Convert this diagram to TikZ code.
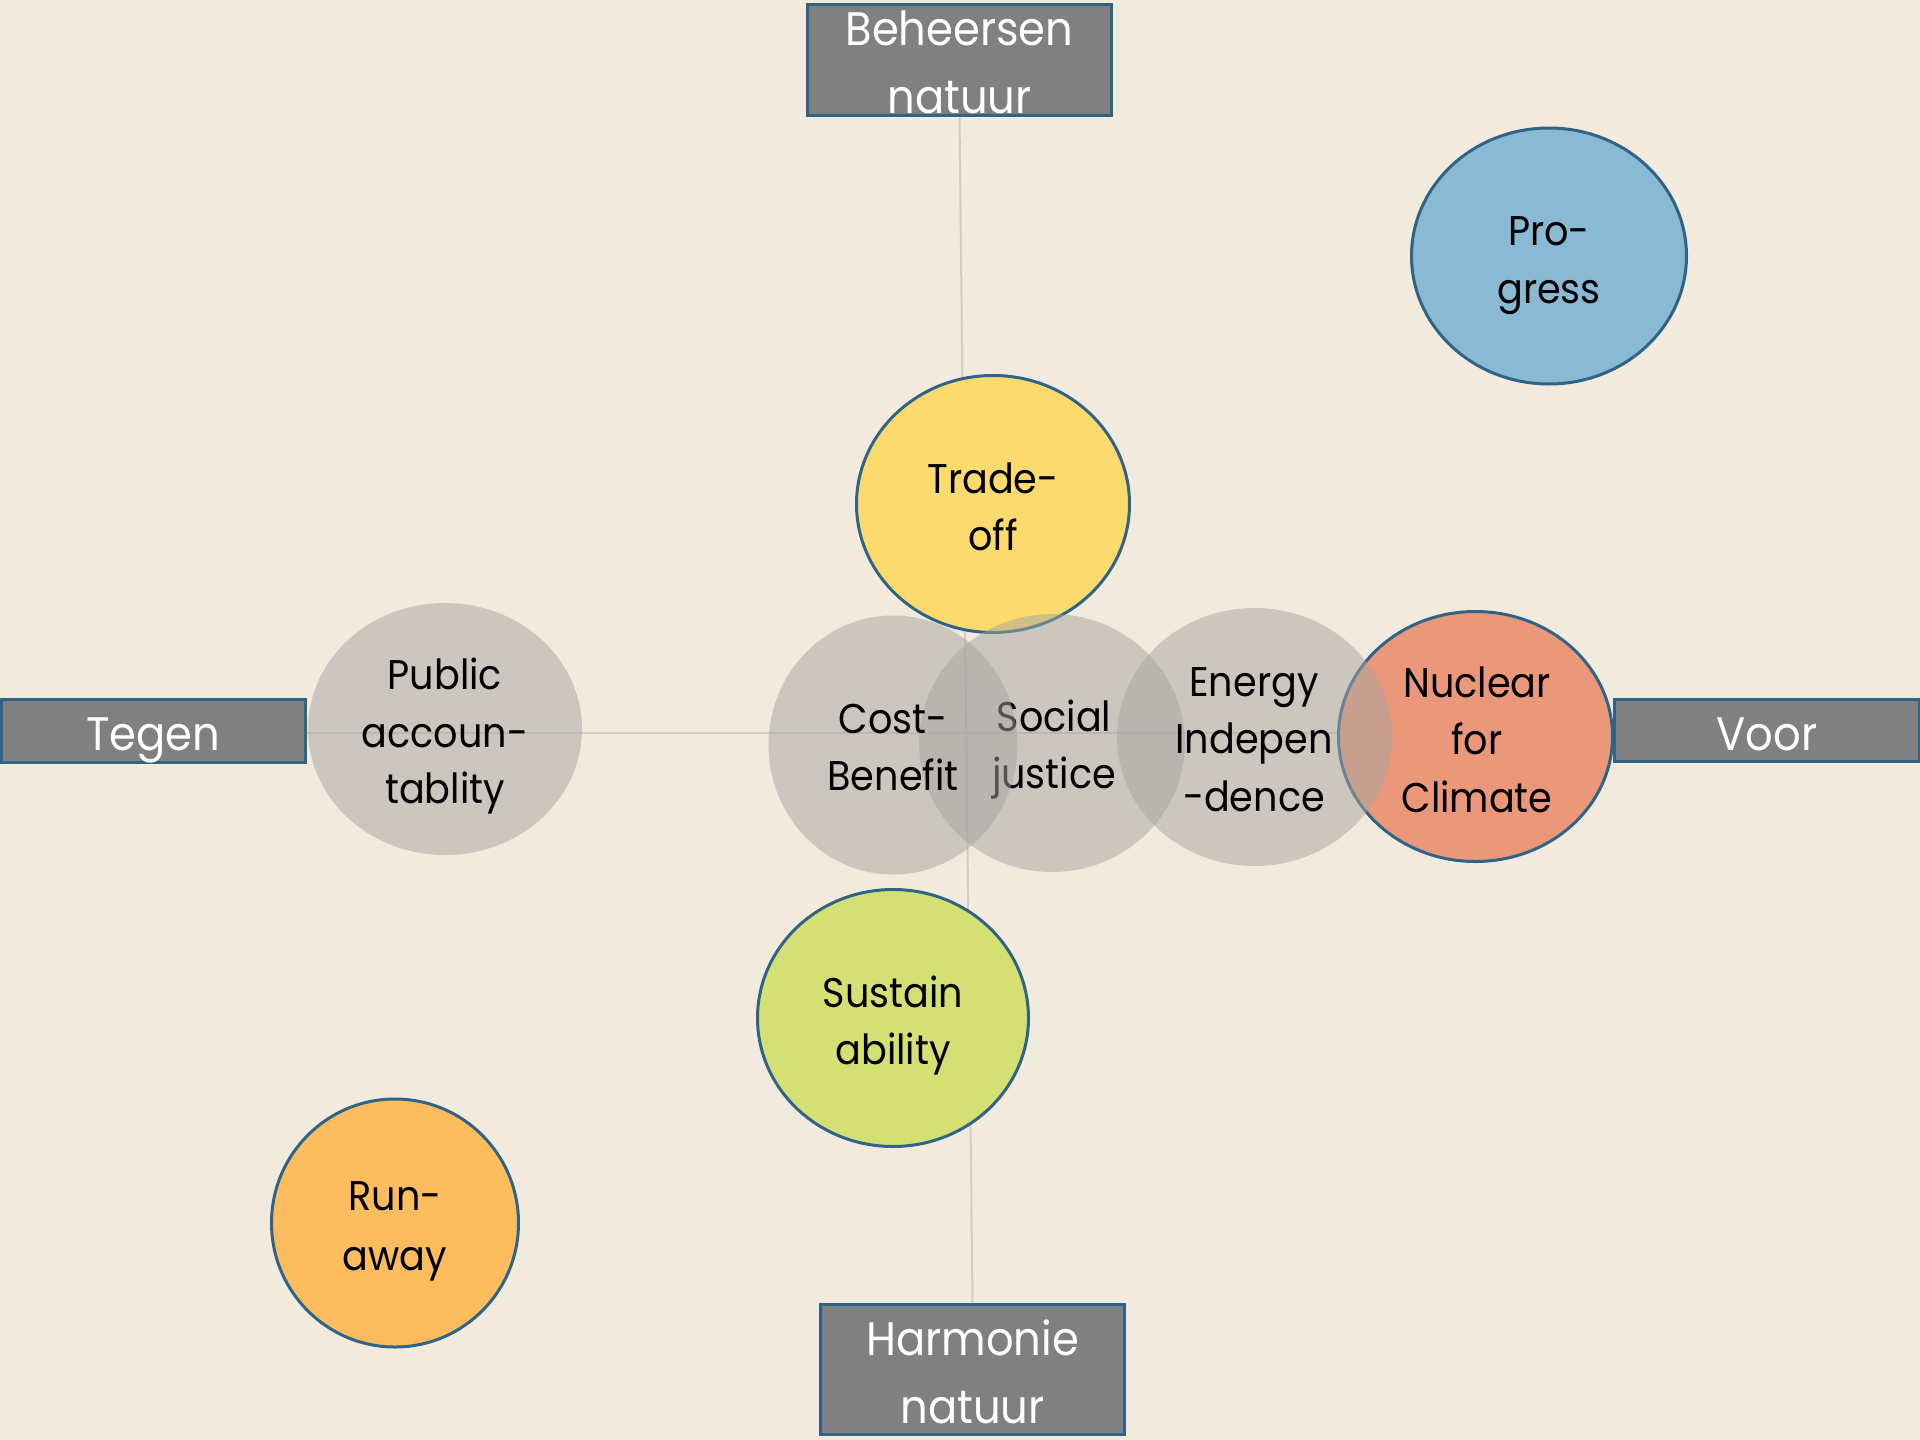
\documentclass[tikz,border=0pt]{standalone}
\usepackage{fontspec}
\setmainfont{Poppins}[FakeStretch=0.92]
\usetikzlibrary{shapes.geometric}
\definecolor{bg}{HTML}{F2EBDD}
\definecolor{boxgrey}{HTML}{808080}
\definecolor{edgeblue}{HTML}{2F6486}
\definecolor{axisgrey}{HTML}{D2CCC2}
\definecolor{circgrey}{HTML}{A6A5A3}
\definecolor{progcol}{HTML}{8AB9D3}
\definecolor{tradecol}{HTML}{FDDA6E}
\definecolor{nuclcol}{HTML}{EB977A}
\definecolor{sustcol}{HTML}{D4E073}
\definecolor{runcol}{HTML}{FDBD5F}
\tikzset{
  axisline/.style={draw=axisgrey, line width=2pt},
  pole/.style={rectangle, draw=edgeblue, line width=3pt, fill=boxgrey, inner sep=0pt},
  colcirc/.style={ellipse, draw=edgeblue, line width=3pt, inner sep=0pt},
  greycirc/.style={ellipse, fill=circgrey, fill opacity=0.5, draw=none, inner sep=0pt},
  ctext/.style={font=\fontsize{41.5}{41.5}\selectfont, text=black, anchor=base, inner sep=0pt},
  btext/.style={font=\fontsize{47}{47}\selectfont, text=white, anchor=base, inner sep=0pt},
}
\begin{document}
\begin{tikzpicture}[x=1pt,y=-1pt]
\useasboundingbox (0,0) rectangle (1920,1440);
\fill[bg] (0,0) rectangle (1920,1440);

% poles
\node[pole, minimum width=304pt, minimum height=111pt] (beh) at (959.5,60) {};
\node[pole, minimum width=304pt, minimum height=130pt] (harm) at (972.5,1369.5) {};
\node[pole, minimum width=304pt, minimum height=63pt] (teg) at (153.5,730.5) {};
\node[pole, minimum width=305pt, minimum height=62pt] (voor) at (1767,730.5) {};

% axes
\draw[axisline] (beh.south) -- (harm.north);
\draw[axisline] ([yshift=-2.5pt]teg.east) -- ([yshift=-2.5pt]voor.west);

\node[btext] (behA) at (959.5,45) {Beheersen};
\node[btext] (behB) at (959.5,113) {natuur};
\node[btext] (harmA) at (972.5,1355) {Harmonie};
\node[btext] (harmB) at (972.5,1423) {natuur};
\node[btext] (tegT) at (153.5,750) {Tegen};
\node[btext] (voorT) at (1767,750) {Voor};

% coloured circles
\node[colcirc, fill=progcol, minimum width=275pt, minimum height=256pt] (prog) at (1549,256) {};
\node[ctext] (progA) at (1549,245) {Pro-};
\node[ctext] (progB) at (1549,303) {gress};

\node[colcirc, fill=runcol, minimum width=247pt, minimum height=248pt] (run) at (395,1223) {};
\node[ctext] (runA) at (395,1210) {Run-};
\node[ctext] (runB) at (395,1270) {away};

\node[colcirc, fill=sustcol, minimum width=271pt, minimum height=257pt] (sust) at (893,1018) {};
\node[ctext] (sustA) at (893,1007) {Sustain};
\node[ctext] (sustB) at (893,1064) {ability};

\node[colcirc, fill=tradecol, minimum width=273pt, minimum height=257pt] (trade) at (993,504) {};
\node[ctext] (tradeA) at (993,493) {Trade-};
\node[ctext] (tradeB) at (993,550) {off};

\node[colcirc, fill=nuclcol, minimum width=274pt, minimum height=250pt] (nucl) at (1475.5,736.5) {};
\node[ctext] (nuclA) at (1477,697) {Nuclear};
\node[ctext] (nuclB) at (1477,754) {for};
\node[ctext] (nuclC) at (1477,812) {Climate};

% grey translucent circles
\node[greycirc, minimum width=274pt, minimum height=252pt] (pub) at (445,729) {};
\node[ctext] (pubA) at (445,689) {Public};
\node[ctext] (pubB) at (445,747) {accoun-};
\node[ctext] (pubC) at (445,803) {tablity};

\node[greycirc, minimum width=266pt, minimum height=258pt] (soc) at (1052,743) {};
\node[ctext] (socA) at (1054,731) {Social};
\node[ctext] (socB) at (1054,788) {justice};

\node[greycirc, minimum width=249pt, minimum height=259pt] (cost) at (893,745) {};
\node[ctext] (costA) at (893,733) {Cost-};
\node[ctext] (costB) at (893,790) {Benefit};

\node[greycirc, minimum width=275pt, minimum height=258pt] (ener) at (1254.5,737) {};
\node[ctext] (enerA) at (1254,696) {Energy};
\node[ctext] (enerB) at (1254,753) {Indepen};
\node[ctext] (enerC) at (1254,811) {-dence};
\end{tikzpicture}
\end{document}
